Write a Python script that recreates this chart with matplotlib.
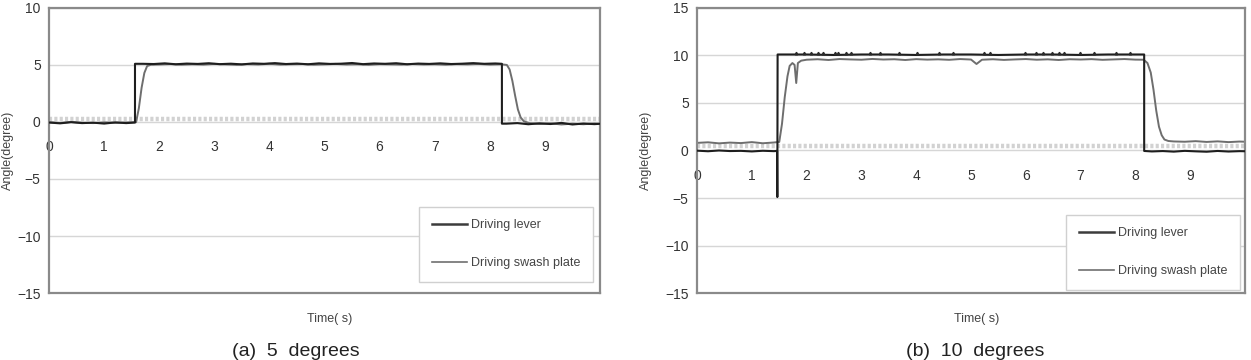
import matplotlib.pyplot as plt

plt.rcParams['font.family'] = ['Liberation Sans', 'DejaVu Sans']

# ---- (a) 5 degrees ----
a_lever_t = [0.0, 0.2, 0.4, 0.6, 0.8, 1.0, 1.2, 1.4, 1.56, 1.56,
             1.7, 1.9, 2.1, 2.3, 2.5, 2.7, 2.9, 3.1, 3.3, 3.5, 3.7, 3.9, 4.1, 4.3, 4.5, 4.7,
             4.9, 5.1, 5.3, 5.5, 5.7, 5.9, 6.1, 6.3, 6.5, 6.7, 6.9, 7.1, 7.3, 7.5, 7.7, 7.9, 8.1,
             8.22, 8.22, 8.3, 8.5, 8.7, 8.9, 9.1, 9.3, 9.5, 9.7, 9.9, 10.0]
a_lever = [-0.05, -0.12, -0.02, -0.10, -0.06, -0.14, -0.04, -0.10, -0.05, 5.10,
           5.10, 5.08, 5.14, 5.06, 5.12, 5.09, 5.15, 5.07, 5.11, 5.05, 5.13, 5.10, 5.16, 5.08, 5.12, 5.06,
           5.14, 5.09, 5.11, 5.17, 5.07, 5.13, 5.10, 5.15, 5.06, 5.12, 5.09, 5.14, 5.08, 5.11, 5.16, 5.10, 5.13,
           5.10, -0.15, -0.15, -0.10, -0.20, -0.12, -0.18, -0.08, -0.22, -0.14, -0.19, -0.16]

a_swash_t = [0.0, 0.2, 0.4, 0.6, 0.8, 1.0, 1.2, 1.4, 1.58, 1.63, 1.68, 1.73, 1.78, 1.85,
             2.0, 2.2, 2.4, 2.6, 2.8, 3.0, 3.2, 3.4, 3.6, 3.8, 4.0, 4.2, 4.4, 4.6, 4.8, 5.0,
             5.2, 5.4, 5.6, 5.8, 6.0, 6.2, 6.4, 6.6, 6.8, 7.0, 7.2, 7.4, 7.6, 7.8, 8.0, 8.2,
             8.31, 8.36, 8.41, 8.46, 8.51, 8.56, 8.62, 8.72,
             8.9, 9.1, 9.3, 9.5, 9.7, 9.9, 10.0]
a_swash = [-0.02, -0.08, 0.00, -0.06, -0.10, -0.03, -0.07, -0.04, -0.02, 1.2, 3.0, 4.3, 4.9, 5.02,
           5.04, 5.08, 5.02, 5.06, 5.03, 5.09, 5.05, 5.01, 5.07, 5.04, 5.10, 5.03, 5.06, 5.08, 5.02, 5.05,
           5.09, 5.04, 5.06, 5.01, 5.07, 5.05, 5.03, 5.08, 5.04, 5.06, 5.02, 5.07, 5.05, 5.09, 5.03, 5.06,
           5.0, 4.6, 3.6, 2.3, 1.1, 0.4, 0.05, -0.10,
           -0.18, -0.12, -0.22, -0.15, -0.20, -0.13, -0.17]

# ---- (b) 10 degrees ----
b_lever_t = [0.0, 0.2, 0.4, 0.6, 0.8, 1.0, 1.2, 1.4, 1.46, 1.465, 1.47,
             2.0, 2.5, 3.0, 3.5, 4.0, 4.5, 5.0, 5.5, 6.0, 6.5, 7.0, 7.5, 8.0, 8.16, 8.16,
             8.3, 8.5, 8.7, 8.9, 9.1, 9.3, 9.5, 9.7, 9.9, 10.0]
b_lever = [-0.02, -0.08, 0.00, -0.06, -0.04, -0.10, -0.03, -0.07, -0.05, -4.9, 10.1,
           10.1, 10.05, 10.1, 10.1, 10.05, 10.1, 10.1, 10.05, 10.1, 10.1, 10.05, 10.1, 10.1, 10.1, -0.05,
           -0.10, -0.06, -0.12, -0.04, -0.09, -0.13, -0.05, -0.11, -0.07, -0.08]
b_spike_t = [1.80, 1.96, 2.08, 2.20, 2.30, 2.51, 2.57, 2.72, 2.81, 3.15, 3.33, 3.69, 4.02, 4.42,
             4.68, 5.23, 5.35, 5.98, 6.19, 6.31, 6.47, 6.61, 6.70, 6.98, 7.25, 7.64, 7.91]
b_spike = [10.25] * len(b_spike_t)

b_swash_t = [0.0, 0.2, 0.4, 0.6, 0.8, 1.0, 1.2, 1.4, 1.5, 1.55, 1.6, 1.65, 1.69, 1.74, 1.78, 1.81, 1.84, 1.9,
             2.0, 2.2, 2.4, 2.6, 2.8, 3.0, 3.2, 3.4, 3.6, 3.8, 4.0, 4.2, 4.4, 4.6, 4.8, 5.0,
             5.1, 5.2, 5.4, 5.6, 5.8, 6.0, 6.2, 6.4, 6.6, 6.8, 7.0, 7.2, 7.4, 7.6, 7.8, 8.0, 8.15,
             8.22, 8.28, 8.33, 8.38, 8.43, 8.48, 8.53, 8.6, 8.7,
             8.9, 9.1, 9.3, 9.5, 9.7, 9.9, 10.0]
b_swash = [0.80, 0.86, 0.75, 0.83, 0.78, 0.88, 0.76, 0.84, 0.90, 2.8, 5.6, 7.8, 8.9, 9.2, 9.0, 7.1, 9.2, 9.45,
           9.55, 9.60, 9.52, 9.62, 9.58, 9.55, 9.63, 9.57, 9.60, 9.52, 9.61, 9.56, 9.59, 9.54, 9.62, 9.57,
           9.10, 9.55, 9.60, 9.53, 9.58, 9.62, 9.55, 9.59, 9.52, 9.60, 9.57, 9.61, 9.54, 9.58, 9.62, 9.56, 9.55,
           9.2, 8.2, 6.4, 4.2, 2.5, 1.6, 1.15, 1.0, 0.95,
           0.92, 0.98, 0.90, 0.96, 0.88, 0.94, 0.92]

x_ticks = [0, 1, 2, 3, 4, 5, 6, 7, 8, 9]
labels = ['Driving lever', 'Driving swash plate']

fig = plt.figure(figsize=(12.51, 3.6), dpi=100)
ax_a = fig.add_axes([0.0392, 0.186, 0.4404, 0.792])
ax_b = fig.add_axes([0.5572, 0.186, 0.4380, 0.792])


def style(ax, ylim, yticks, band):
    ax.set_xlim(0, 10)
    ax.set_ylim(*ylim)
    ax.set_yticks(yticks)
    ax.set_yticklabels([str(v).replace('-', '\u2212') for v in yticks])
    ax.set_xticks([])
    ax.grid(axis='y', color='#d6d6d6', lw=1)
    ax.set_axisbelow(True)
    ax.tick_params(axis='y', length=0, pad=6, labelsize=10, labelcolor='#333333')
    for s in ax.spines.values():
        s.set_color('#8a8a8a')
        s.set_linewidth(1.6)
    # Excel style category axis drawn as a light dotted band
    ax.axhline(band, color='#d2d2d2', lw=3.2, ls=(0, (0.7, 0.5)), zorder=1.5)
    sec = ax.secondary_xaxis(0, transform=ax.transData)
    sec.set_xticks(x_ticks)
    sec.tick_params(length=0, pad=13, labelsize=10, labelcolor='#333333')
    sec.spines['bottom'].set_visible(False)


style(ax_a, (-15, 10), [-15, -10, -5, 0, 5, 10], 0.3)
style(ax_b, (-15, 15), [-15, -10, -5, 0, 5, 10, 15], 0.45)

ax_a.plot(a_lever_t, a_lever, color='#1e1e1e', lw=1.5, zorder=3)
ax_a.plot(a_swash_t, a_swash, color='#6e6e6e', lw=1.4, zorder=2.5)

ax_b.plot(b_lever_t, b_lever, color='#1e1e1e', lw=1.5, zorder=3)
ax_b.plot(b_spike_t, b_spike, '^', color='#2a2a2a', ms=1.8, zorder=3)
ax_b.plot(b_swash_t, b_swash, color='#6e6e6e', lw=1.4, zorder=2.5)

h1 = plt.Line2D([], [], color='#3c3c3c', lw=1.8)
h2 = plt.Line2D([], [], color='#707070', lw=1.2)

for ax, anchor in [(ax_a, (0.987, 0.039)), (ax_b, (0.991, 0.011))]:
    leg = ax.legend([h1, h2], labels, loc='lower right', bbox_to_anchor=anchor,
                    fontsize=9, labelspacing=2.1, handlelength=2.8, handletextpad=0.35,
                    borderpad=1.0, borderaxespad=0, fancybox=False, framealpha=1)
    leg.get_frame().set_edgecolor('#d0d0d0')
    for t in leg.get_texts():
        t.set_color('#444444')

for ax, ylx in [(ax_a, -0.064), (ax_b, -0.082)]:
    ax.set_ylabel('Angle(degree)', fontsize=9, color='#444444')
    ax.yaxis.set_label_coords(ylx, 0.5)
    ax.set_xlabel('Time( s)', fontsize=9, color='#444444')
    ax.xaxis.set_label_coords(0.51, -0.07)

fig.text(296 / 1251, 1 - 352 / 360, '(a)  5  degrees', fontsize=14, ha='center', va='center', color='#222222')
fig.text(975 / 1251, 1 - 352 / 360, '(b)  10  degrees', fontsize=14, ha='center', va='center', color='#222222')

fig.savefig('out.png', dpi=100)
